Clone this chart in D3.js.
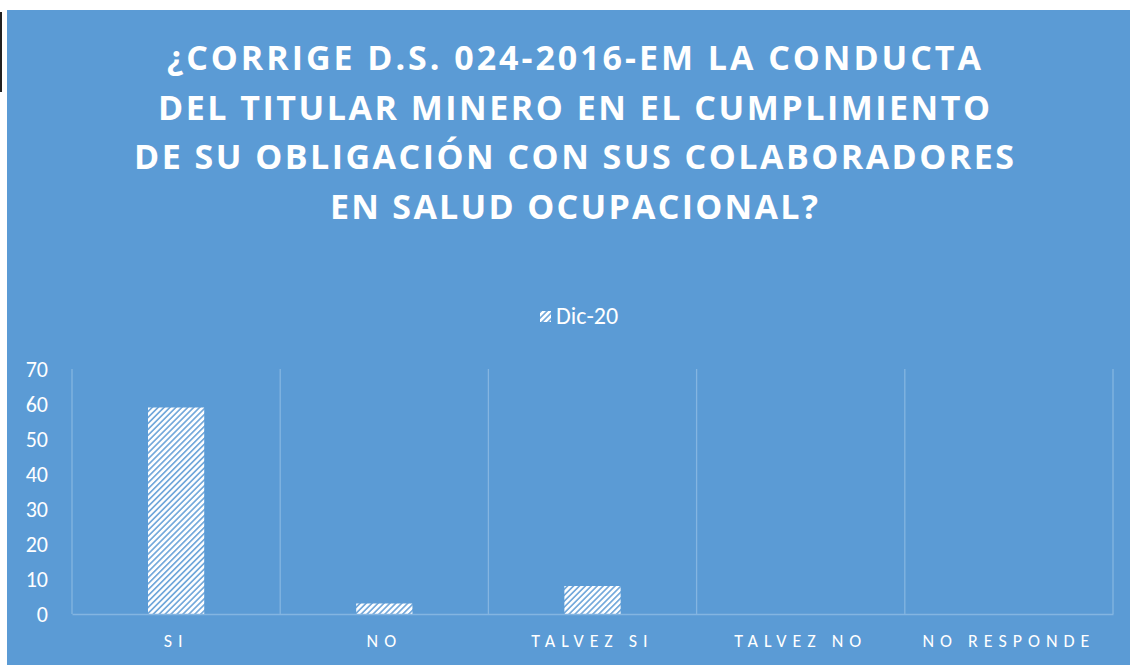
<!DOCTYPE html>
<html>
<head>
<meta charset="utf-8">
<script src="https://cdn.jsdelivr.net/npm/d3@7"></script>
<style>
 body { margin: 0; background: #fff; }
 svg { display: block; }
</style>
</head>
<body>
<script>
 // *** data
 var categories = ["SI", "NO", "TALVEZ SI", "TALVEZ NO", "NO RESPONDE"];
 var values = [59, 3, 8, 0, 0];
 var seriesName = "Dic-20";
 var yTicks = [0, 10, 20, 30, 40, 50, 60, 70];
 var titleLines = [
  "¿CORRIGE D.S. 024-2016-EM LA CONDUCTA",
  "DEL TITULAR MINERO EN EL CUMPLIMIENTO",
  "DE SU OBLIGACIÓN CON SUS COLABORADORES",
  "EN SALUD OCUPACIONAL?"
 ];
 var titleWidths = [814, 832, 880, 488];

 var width = 1130
 var height = 665
 var bg = "#5B9BD5"
 var gridColor = "#84B5E1"

 var svg = d3.select("body").append("svg")
  .attr("width", width)
  .attr("height", height);

 // stripe pattern for the bars
 var defs = svg.append("defs");
 var pat = defs.append("pattern")
  .attr("id", "stripes")
  .attr("patternUnits", "userSpaceOnUse")
  .attr("width", 4.2)
  .attr("height", 4.2)
  .attr("patternTransform", "rotate(45)");
 pat.append("rect").attr("width", 4.2).attr("height", 4.2).attr("fill", "#ffffff");
 pat.append("rect").attr("x", 0).attr("width", 1.7).attr("height", 4.2).attr("fill", "#74A9DB");

 // background panel
 svg.append("rect")
  .attr("x", 7).attr("y", 10)
  .attr("width", width - 7).attr("height", height - 10)
  .attr("fill", bg);

 // little black mark on the left
 svg.append("rect")
  .attr("x", 0).attr("y", 12)
  .attr("width", 2).attr("height", 80)
  .attr("fill", "#222");

 // title
 svg.append("g").selectAll("text")
  .data(titleLines)
  .enter()
  .append("text")
  .attr("x", 574)
  .attr("y", function(d, i) { return 70 + i * 49.5 })
  .attr("text-anchor", "middle")
  .attr("font-family", "'Open Sans', sans-serif")
  .attr("font-weight", "bold")
  .attr("font-size", 34)
  .attr("fill", "#fff")
  .attr("textLength", function(d, i) { return titleWidths[i] })
  .attr("lengthAdjust", "spacing")
  .text(function(d) { return d });

 // legend
 var legend = svg.append("g").attr("transform", "translate(540,311)");
 legend.append("rect")
  .attr("width", 11).attr("height", 11)
  .attr("fill", "url(#stripes)");
 legend.append("text")
  .attr("x", 16).attr("y", 13)
  .attr("font-family", "Carlito, 'Liberation Sans', sans-serif")
  .attr("font-size", 24)
  .attr("fill", "#fff")
  .text(seriesName);

 var plotLeft = 72, plotRight = 1113, plotTop = 369, plotBottom = 614;

 var xScale = d3.scaleBand()
  .domain(categories)
  .range([plotLeft, plotRight])
  .paddingInner(0)
  .paddingOuter(0);

 var yScale = d3.scaleLinear()
  .domain([0, 70])
  .range([plotBottom, plotTop]);

 // vertical gridlines at category boundaries
 var bounds = categories.map(function(c) { return xScale(c) }).concat([plotRight]);
 svg.append("g").selectAll("line")
  .data(bounds)
  .enter()
  .append("line")
  .attr("x1", function(d) { return d }).attr("x2", function(d) { return d })
  .attr("y1", plotTop).attr("y2", plotBottom)
  .attr("stroke", gridColor)
  .attr("stroke-width", 1.3);

 // bars
 var bw = xScale.bandwidth() * 0.27;
 svg.append("g").selectAll("rect")
  .data(values)
  .enter()
  .append("rect")
  .attr("x", function(d, i) { return xScale(categories[i]) + xScale.bandwidth() / 2 - bw / 2 })
  .attr("y", function(d) { return yScale(d) })
  .attr("width", bw)
  .attr("height", function(d) { return plotBottom - yScale(d) })
  .attr("fill", "url(#stripes)");

 // x axis line + labels
 var xAxis = d3.axisBottom(xScale).tickSize(0).tickPadding(20);
 var gx = svg.append("g")
  .attr("transform", "translate(0," + plotBottom + ")")
  .call(xAxis);
 gx.select(".domain").attr("stroke", gridColor).attr("stroke-width", 1.3);
 gx.selectAll("text")
  .attr("font-family", "Carlito, 'Liberation Sans', sans-serif")
  .attr("font-size", 18)
  .attr("letter-spacing", "6px")
  .attr("fill", "#fff");

 // y axis labels
 var yAxis = d3.axisLeft(yScale).tickValues(yTicks).tickSize(0).tickPadding(24);
 var gy = svg.append("g")
  .attr("transform", "translate(" + plotLeft + ",0)")
  .call(yAxis);
 gy.select(".domain").remove();
 gy.selectAll("text")
  .attr("font-family", "Carlito, 'Liberation Sans', sans-serif")
  .attr("font-size", 22)
  .attr("fill", "#fff");
</script>
</body>
</html>
